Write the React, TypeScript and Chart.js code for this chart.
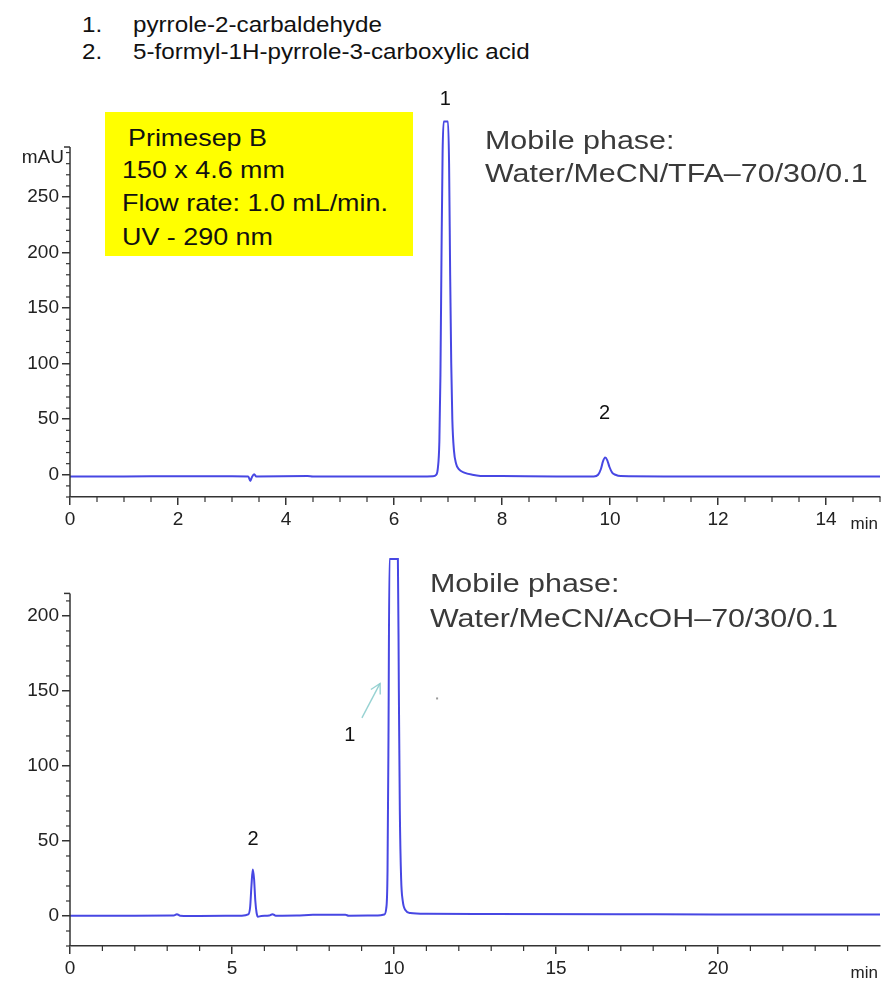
import React, { useEffect, useRef } from "react";
import { Chart, registerables } from "chart.js";

Chart.register(...registerables);

// ---------- Data ----------
const TOP_TIME = [0, 1.0, 2.0, 3.0, 3.3, 3.34, 3.37, 3.41, 3.45, 4.4, 4.5, 5.5, 6.5, 6.72, 6.78, 6.81, 6.84, 6.86, 6.88, 6.9, 6.92, 7.0, 7.02, 7.04, 7.06, 7.08, 7.11, 7.15, 7.2, 7.3, 7.45, 7.6, 8.0, 9.0, 9.7, 9.78, 9.83, 9.87, 9.91, 9.95, 9.99, 10.04, 10.1, 10.2, 11, 12, 13, 14, 15];
const TOP_SIGNAL = [-1.5, -1.5, -1.3, -1.4, -1.5, -5.5, -2, 0.5, -1.5, -1.2, -1.5, -1.5, -1.5, -1.3, 0, 5, 30, 90, 200, 290, 318, 318, 280, 180, 100, 50, 22, 10, 5, 2, 0, -1, -1.2, -1.5, -1.5, 0, 5, 12, 15.5, 13, 7, 2, 0, -1.2, -1.5, -1.5, -1.5, -1.5, -1.5];

const BOTTOM_TIME = [0, 2, 3.2, 3.3, 3.4, 4, 5.3, 5.5, 5.56, 5.6, 5.64, 5.68, 5.72, 5.76, 5.8, 5.9, 6.15, 6.25, 6.35, 7, 7.5, 8.5, 8.6, 9.5, 9.7, 9.76, 9.8, 9.83, 9.86, 10.12, 10.15, 10.18, 10.22, 10.27, 10.35, 10.5, 11, 13, 17, 20, 22, 25];
const BOTTOM_SIGNAL = [0.2, 0.2, 0.3, 1.2, 0.2, 0, 0.2, 1, 6, 20, 31, 25, 10, 2, -0.5, 0, 0.3, 1.2, 0.2, 0.3, 0.8, 0.8, 0.2, 0.3, 1, 5, 30, 120, 238, 238, 150, 70, 25, 10, 4, 2, 1.5, 1.4, 1.2, 1, 1, 1];

const TOP_X_TICKS = [0, 2, 4, 6, 8, 10, 12, 14];
const TOP_Y_TICKS = [0, 50, 100, 150, 200, 250];
const BOTTOM_X_TICKS = [0, 5, 10, 15, 20];
const BOTTOM_Y_TICKS = [0, 50, 100, 150, 200];

const TOP_PEAK_LABELS = ["1", "2"];
const TOP_PEAK_X = [6.95, 9.9];
const TOP_PEAK_LABEL_Y = [338, 55];
const BOTTOM_PEAK_LABELS = ["2", "1"];
const BOTTOM_PEAK_X = [5.65, 8.64];
const BOTTOM_PEAK_LABEL_Y = [51, 120];
const BOTTOM_ARROW_FROM = [9.01, 132];
const BOTTOM_ARROW_TO = [9.57, 155];

const COMPOUNDS = ["pyrrole-2-carbaldehyde", "5-formyl-1H-pyrrole-3-carboxylic acid"];
const CONDITIONS = ["Primesep B", "150 x 4.6 mm", "Flow rate: 1.0 mL/min.", "UV - 290 nm"];
const TOP_MOBILE = ["Mobile phase:", "Water/MeCN/TFA\u201370/30/0.1"];
const BOTTOM_MOBILE = ["Mobile phase:", "Water/MeCN/AcOH\u201370/30/0.1"];

// ---------- Styles ----------
const FONT = '"Liberation Sans", Arial, sans-serif';
const LINE_COLOR = "rgba(55, 55, 225, 0.92)";
const AXIS_COLOR = "#333333";
const TICK_COLOR = "#222222";

const range = (a: number, b: number, s: number) => {
  const out: number[] = [];
  for (let v = a; v <= b + 1e-9; v += s) out.push(Math.round(v * 100) / 100);
  return out;
};

type Decor = {
  yMin: number;
  axisTop: number;
  yMinor: number[];
  xMinor: number[];
  labels: string[];
  labelX: number[];
  labelY: number[];
  unitLabel?: string;
  arrow?: { from: number[]; to: number[] };
};

const decorPlugin = (d: Decor) => ({
  id: "decor",
  afterDraw(chart: any) {
    const { ctx, chartArea } = chart;
    const xs = chart.scales.x;
    const ys = chart.scales.y;
    const left = chartArea.left;
    const bottom = chartArea.bottom;
    ctx.save();
    ctx.strokeStyle = AXIS_COLOR;
    ctx.lineWidth = 1.5;
    // y axis line
    const yTopPx = ys.getPixelForValue(d.axisTop);
    ctx.beginPath();
    ctx.moveTo(left, bottom);
    ctx.lineTo(left, yTopPx);
    ctx.stroke();
    ctx.beginPath();
    ctx.moveTo(left - 6, yTopPx);
    ctx.lineTo(left, yTopPx);
    ctx.stroke();
    // minor y ticks
    ctx.lineWidth = 1.2;
    for (const v of d.yMinor) {
      const py = ys.getPixelForValue(v);
      ctx.beginPath();
      ctx.moveTo(left - 4, py);
      ctx.lineTo(left, py);
      ctx.stroke();
    }
    // minor x ticks
    for (const v of d.xMinor) {
      const px = xs.getPixelForValue(v);
      ctx.beginPath();
      ctx.moveTo(px, bottom);
      ctx.lineTo(px, bottom + 5);
      ctx.stroke();
    }
    // "min" label
    ctx.fillStyle = TICK_COLOR;
    ctx.font = `17px ${FONT}`;
    ctx.textAlign = "right";
    ctx.textBaseline = "middle";
    ctx.fillText("min", chartArea.right - 2, bottom + 27);
    // unit label
    if (d.unitLabel) {
      ctx.font = `19px ${FONT}`;
      ctx.textAlign = "right";
      ctx.fillText(d.unitLabel, left - 6, yTopPx + 11);
    }
    // peak labels
    ctx.fillStyle = "#111111";
    ctx.font = `20px ${FONT}`;
    ctx.textAlign = "center";
    ctx.textBaseline = "middle";
    d.labels.forEach((t, i) => {
      ctx.fillText(t, xs.getPixelForValue(d.labelX[i]), ys.getPixelForValue(d.labelY[i]));
    });
    // arrow
    if (d.arrow) {
      const x1 = xs.getPixelForValue(d.arrow.from[0]);
      const y1 = ys.getPixelForValue(d.arrow.from[1]);
      const x2 = xs.getPixelForValue(d.arrow.to[0]);
      const y2 = ys.getPixelForValue(d.arrow.to[1]);
      ctx.strokeStyle = "rgba(140, 205, 205, 0.9)";
      ctx.lineWidth = 1.4;
      ctx.beginPath();
      ctx.moveTo(x1, y1);
      ctx.lineTo(x2, y2);
      ctx.stroke();
      const ang = Math.atan2(y2 - y1, x2 - x1);
      const hl = 11;
      ctx.beginPath();
      ctx.moveTo(x2 - hl * Math.cos(ang - 0.5), y2 - hl * Math.sin(ang - 0.5));
      ctx.lineTo(x2, y2);
      ctx.lineTo(x2 - hl * Math.cos(ang + 0.5), y2 - hl * Math.sin(ang + 0.5));
      ctx.stroke();
      // tiny stray dot
      ctx.fillStyle = "#999999";
      ctx.fillRect(xs.getPixelForValue(11.33) - 1, ys.getPixelForValue(145) - 1, 2, 2);
    }
    ctx.restore();
  },
});

function makeChart(
  canvas: HTMLCanvasElement,
  time: number[],
  signal: number[],
  opts: {
    xMax: number;
    yMin: number;
    yMax: number;
    xTicks: number[];
    yTicks: number[];
    padTop: number;
    xHeight: number;
    decor: Decor;
  }
) {
  const tickFont = { family: FONT, size: 19 };
  return new Chart(canvas, {
    type: "line",
    data: {
      datasets: [
        {
          data: time.map((t, i) => ({ x: t, y: signal[i] })),
          borderColor: LINE_COLOR,
          borderWidth: 2,
          pointRadius: 0,
          fill: false,
          cubicInterpolationMode: "monotone",
        } as any,
      ],
    },
    options: {
      animation: false,
      responsive: false,
      maintainAspectRatio: false,
      events: [],
      layout: { padding: { top: opts.padTop, right: 2, left: 0, bottom: 0 } },
      plugins: { legend: { display: false }, tooltip: { enabled: false }, title: { display: false } },
      scales: {
        x: {
          type: "linear",
          min: 0,
          max: opts.xMax,
          afterBuildTicks: (s: any) => {
            s.ticks = opts.xTicks.map((v) => ({ value: v }));
          },
          afterFit: (s: any) => {
            s.height = opts.xHeight;
          },
          grid: { display: true, drawOnChartArea: false, drawTicks: true, tickLength: 8, color: AXIS_COLOR, lineWidth: 1.5 },
          border: { display: true, color: AXIS_COLOR, width: 1.5 },
          ticks: { color: TICK_COLOR, font: tickFont, padding: 3, maxRotation: 0, autoSkip: false },
        },
        y: {
          type: "linear",
          min: opts.yMin,
          max: opts.yMax,
          afterBuildTicks: (s: any) => {
            s.ticks = opts.yTicks.map((v) => ({ value: v }));
          },
          afterFit: (s: any) => {
            s.width = 70;
          },
          grid: { display: true, drawOnChartArea: false, drawTicks: true, tickLength: 8, color: AXIS_COLOR, lineWidth: 1.5 },
          border: { display: false },
          ticks: { color: TICK_COLOR, font: tickFont, padding: 3, autoSkip: false },
        },
      },
    } as any,
    plugins: [decorPlugin(opts.decor)],
  });
}

const Txt = ({ left, baseline, size, sx, color, children }: any) => (
  <div
    style={{
      position: "absolute",
      left,
      top: baseline - 0.8465 * size,
      fontSize: size,
      lineHeight: `${size}px`,
      fontFamily: FONT,
      color,
      whiteSpace: "nowrap",
      transform: `scaleX(${sx})`,
      transformOrigin: "left top",
      pointerEvents: "none",
    }}
  >
    {children}
  </div>
);

export default function App() {
  const topRef = useRef<HTMLCanvasElement>(null);
  const botRef = useRef<HTMLCanvasElement>(null);

  useEffect(() => {
    const c1 = makeChart(topRef.current!, TOP_TIME, TOP_SIGNAL, {
      xMax: 15,
      yMin: -20,
      yMax: 322,
      xTicks: TOP_X_TICKS,
      yTicks: TOP_Y_TICKS,
      padTop: 37,
      xHeight: 43,
      decor: {
        yMin: -20,
        axisTop: 295,
        yMinor: range(-20, 290, 10).filter((v) => v % 50 !== 0),
        xMinor: range(0.5, 15, 0.5).filter((v) => v % 2 !== 0),
        labels: TOP_PEAK_LABELS,
        labelX: TOP_PEAK_X,
        labelY: TOP_PEAK_LABEL_Y,
        unitLabel: "mAU",
      },
    });
    const c2 = makeChart(botRef.current!, BOTTOM_TIME, BOTTOM_SIGNAL, {
      xMax: 25,
      yMin: -20,
      yMax: 241,
      xTicks: BOTTOM_X_TICKS,
      yTicks: BOTTOM_Y_TICKS,
      padTop: 9,
      xHeight: 37,
      decor: {
        yMin: -20,
        axisTop: 215,
        yMinor: range(-20, 210, 10).filter((v) => v % 50 !== 0),
        xMinor: range(1, 25, 1).filter((v) => v % 5 !== 0),
        labels: BOTTOM_PEAK_LABELS,
        labelX: BOTTOM_PEAK_X,
        labelY: BOTTOM_PEAK_LABEL_Y,
        arrow: { from: BOTTOM_ARROW_FROM, to: BOTTOM_ARROW_TO },
      },
    });
    return () => {
      c1.destroy();
      c2.destroy();
    };
  }, []);

  return (
    <div style={{ position: "absolute", left: 0, top: 0, width: 882, height: 983, background: "#ffffff", overflow: "hidden" }}>
      <canvas ref={topRef} width={882} height={460} style={{ position: "absolute", left: 0, top: 80, width: 882, height: 460 }} />
      <canvas ref={botRef} width={882} height={443} style={{ position: "absolute", left: 0, top: 540, width: 882, height: 443 }} />

      {/* compound legend */}
      <Txt left={82} baseline={33} size={22} sx={1.1} color="#111">1.</Txt>
      <Txt left={133} baseline={33} size={22} sx={1.1} color="#111">{COMPOUNDS[0]}</Txt>
      <Txt left={82} baseline={60} size={22} sx={1.1} color="#111">2.</Txt>
      <Txt left={133} baseline={60} size={22} sx={1.1} color="#111">{COMPOUNDS[1]}</Txt>

      {/* conditions box */}
      <div style={{ position: "absolute", left: 105, top: 112, width: 308, height: 144, background: "#ffff00" }} />
      <Txt left={128} baseline={146} size={24} sx={1.12} color="#111">{CONDITIONS[0]}</Txt>
      <Txt left={122} baseline={178} size={24} sx={1.12} color="#111">{CONDITIONS[1]}</Txt>
      <Txt left={122} baseline={211} size={24} sx={1.12} color="#111">{CONDITIONS[2]}</Txt>
      <Txt left={122} baseline={245} size={24} sx={1.12} color="#111">{CONDITIONS[3]}</Txt>

      {/* mobile phases */}
      <Txt left={485} baseline={149} size={26} sx={1.17} color="#3a3a3a">{TOP_MOBILE[0]}</Txt>
      <Txt left={485} baseline={182} size={26} sx={1.17} color="#3a3a3a">{TOP_MOBILE[1]}</Txt>
      <Txt left={430} baseline={592} size={26} sx={1.17} color="#3a3a3a">{BOTTOM_MOBILE[0]}</Txt>
      <Txt left={430} baseline={627} size={26} sx={1.17} color="#3a3a3a">{BOTTOM_MOBILE[1]}</Txt>
    </div>
  );
}
